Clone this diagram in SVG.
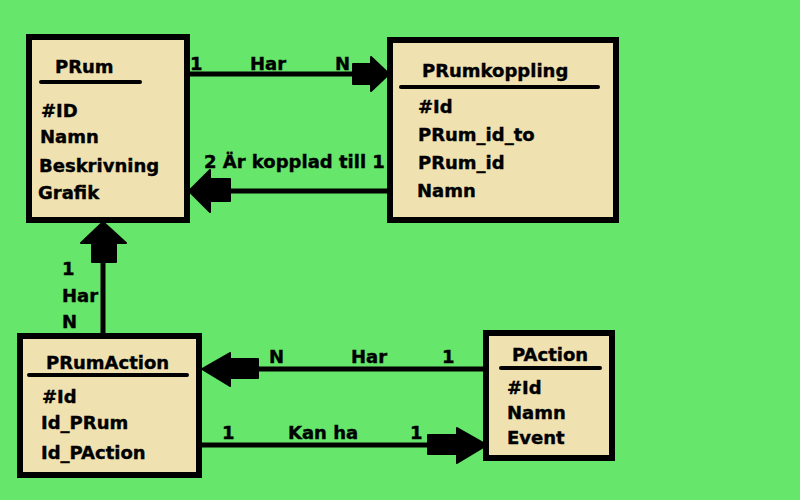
<svg xmlns="http://www.w3.org/2000/svg" width="800" height="500" viewBox="0 0 800 500">
<style>
.box{fill:#F0E2B0;stroke:#000;stroke-width:6}
.ul{stroke:#000;stroke-width:4;stroke-linecap:round}
.t{font-family:"DejaVu Sans",Verdana,sans-serif;font-weight:bold;font-size:18px;fill:#000;stroke:#000;stroke-width:0.4}
.ln{stroke:#000;stroke-width:5;fill:none}
.ah{fill:#000;stroke:#000;stroke-width:2;stroke-linejoin:round}
</style>
<rect width="800" height="500" fill="#66E66A"/>
<g id="connectors">
<line class="ln" x1="187" y1="74" x2="372" y2="74"/>
<path class="ah" d="M353,64 H371 V57 L389,74 L371,91 V84 H353 Z"/>
<line class="ln" x1="215" y1="191" x2="390" y2="191"/>
<path class="ah" d="M230,179 H210 V170 L189,191 L210,212 V201 H230 Z"/>
<line class="ln" x1="103" y1="245" x2="103" y2="336"/>
<path class="ah" d="M92,262 V243 H81 L103,222 L126,243 H116 V262 Z"/>
<line class="ln" x1="215" y1="369" x2="486" y2="369"/>
<path class="ah" d="M258,359 H230 V353 L202,369 L230,386 V378 H258 Z"/>
<line class="ln" x1="199" y1="445" x2="460" y2="445"/>
<path class="ah" d="M428,435 H457 V428 L487,445 L457,463 V454 H428 Z"/>
<text class="t" x="190" y="70">1</text>
<text class="t" x="250" y="70">Har</text>
<text class="t" x="335" y="70">N</text>
<text class="t" x="204" y="168">2 Är kopplad till 1</text>
<text class="t" x="62" y="275">1</text>
<text class="t" x="62" y="302">Har</text>
<text class="t" x="62" y="328">N</text>
<text class="t" x="269" y="363">N</text>
<text class="t" x="351" y="363">Har</text>
<text class="t" x="442" y="363">1</text>
<text class="t" x="222" y="439">1</text>
<text class="t" x="288" y="439">Kan ha</text>
<text class="t" x="410" y="439">1</text>
</g>
<g id="PRum">
<rect class="box" x="29" y="37" width="158" height="183"/>
<text class="t" x="55" y="73">PRum</text>
<line class="ul" x1="41" y1="82" x2="140" y2="82"/>
<text class="t" x="41" y="117">#ID</text>
<text class="t" x="40" y="143">Namn</text>
<text class="t" x="39" y="172">Beskrivning</text>
<text class="t" x="38" y="199">Grafik</text>
</g>
<g id="PRumkoppling">
<rect class="box" x="390" y="40" width="226" height="180"/>
<text class="t" x="422" y="77">PRumkoppling</text>
<line class="ul" x1="401" y1="87" x2="598" y2="87"/>
<text class="t" x="418" y="113">#Id</text>
<text class="t" x="418" y="141">PRum_id_to</text>
<text class="t" x="418" y="169">PRum_id</text>
<text class="t" x="417" y="197">Namn</text>
</g>
<g id="PRumAction">
<rect class="box" x="20" y="336" width="179" height="139"/>
<text class="t" x="46" y="369">PRumAction</text>
<line class="ul" x1="29" y1="375" x2="187" y2="375"/>
<text class="t" x="42" y="403">#Id</text>
<text class="t" x="41" y="429">Id_PRum</text>
<text class="t" x="41" y="459">Id_PAction</text>
</g>
<g id="PAction">
<rect class="box" x="486" y="333" width="126" height="125"/>
<text class="t" x="512" y="361">PAction</text>
<line class="ul" x1="501" y1="368" x2="600" y2="368"/>
<text class="t" x="507" y="394">#Id</text>
<text class="t" x="507" y="419">Namn</text>
<text class="t" x="507" y="444">Event</text>
</g>
</svg>
